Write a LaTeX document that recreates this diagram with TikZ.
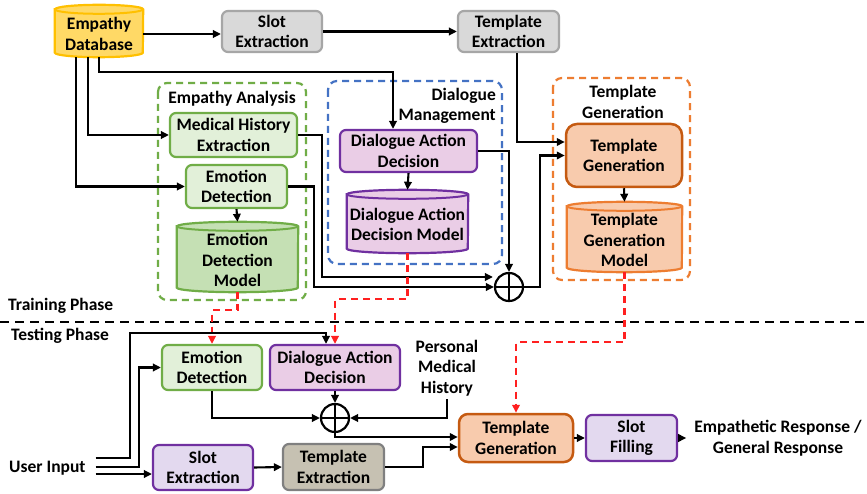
\documentclass[tikz,border=0pt]{standalone}
\usepackage{fontspec}
\setmainfont{Carlito}
\usetikzlibrary{arrows.meta,calc}
\pgfdeclarelayer{background}
\pgfsetlayers{background,main}

\definecolor{dbfill}{HTML}{FFD966}
\definecolor{dbline}{HTML}{FFC000}
\definecolor{grayfill}{HTML}{D9D9D9}
\definecolor{grayline}{HTML}{A6A6A6}
\definecolor{grnfill}{HTML}{E2F0D9}
\definecolor{grnline}{HTML}{70AD47}
\definecolor{grnmodel}{HTML}{C5E0B4}
\definecolor{pinkfill}{HTML}{EACDE6}
\definecolor{purpline}{HTML}{7030A0}
\definecolor{lavfill}{HTML}{E3D9EF}
\definecolor{orgfill}{HTML}{F8CBAD}
\definecolor{orgline}{HTML}{C55A11}
\definecolor{orgmodel}{HTML}{ED7D31}
\definecolor{taupefill}{HTML}{C6C1B2}
\definecolor{taupeline}{HTML}{808080}
\definecolor{blueline}{HTML}{4472C4}
\definecolor{redline}{HTML}{FF2020}

% cylinder body drawn behind a named node: name, half width, fill, border
\newcommand\drawcyl[4]{%
  \begin{pgfonlayer}{background}
    \filldraw[fill=#3, draw=#4, line width=2.2pt]
      ([yshift=1.5pt]#1.north west) -- ([yshift=4.5pt]#1.south west)
      arc[start angle=180, end angle=360, x radius=#2, y radius=4.5pt]
      -- ([yshift=1.5pt]#1.north east)
      arc[start angle=0, end angle=180, x radius=#2, y radius=4.5pt] -- cycle;
    \draw[draw=#4, line width=2pt] ([yshift=1.5pt]#1.north west)
      arc[start angle=180, end angle=360, x radius=#2, y radius=4.5pt];
  \end{pgfonlayer}}

\tikzset{
  every node/.style={font=\fontsize{17.5}{20.5}\selectfont\bfseries, align=center, inner sep=0pt},
  box/.style={draw, line width=2.2pt, rounded corners=6pt},
  conn/.style={draw, line width=2.1pt, -{Triangle[length=8pt,width=7.5pt]}},
  reddash/.style={draw=redline, line width=2.2pt, dash pattern=on 7pt off 5pt,
    -{Triangle[length=8pt,width=7.5pt]}},
  grp/.style={line width=2.2pt, dash pattern=on 7pt off 5pt, rounded corners=9pt},
  oplus/.style={circle, draw, line width=2.2pt, minimum size=28pt},
}

\begin{document}
\begin{tikzpicture}[x=1pt,y=1pt]
\useasboundingbox (0,0) rectangle (867,-494);
\begin{pgfonlayer}{background}
  \fill[white] (0,0) rectangle (867,-494);
  % group frames
  \draw[grp, draw=grnline] (158,-83) rectangle (306,-300);
  \draw[grp, draw=blueline] (328,-81) rectangle (502,-264);
  \draw[grp, draw=orgmodel] (553,-78) rectangle (690,-280);
\end{pgfonlayer}

% group titles
\node (eatitle) at (232,-99) {Empathy Analysis};
\node[anchor=east, align=right] (dmtitle) at (496,-106) {Dialogue\\Management};
\node (tgtitle) at (623,-102) {Template\\Generation};

% ---------- training phase ----------
\node[minimum width=88pt, minimum height=46pt] (db) at (99,-34) {Empathy\\Database};
\drawcyl{db}{44pt}{dbfill}{dbline}
\node[box, fill=grayfill, draw=grayline, minimum width=100pt, minimum height=41pt] (slot1) at (272,-31.5) {Slot\\Extraction};
\node[box, fill=grayfill, draw=grayline, minimum width=101pt, minimum height=41pt] (te1) at (508.5,-31.5) {Template\\Extraction};
\node[box, fill=grnfill, draw=grnline, minimum width=127pt, minimum height=44pt] (mhe) at (233.5,-135) {Medical History\\Extraction};
\node[box, fill=grnfill, draw=grnline, minimum width=101pt, minimum height=43pt] (ed1) at (236.5,-186.5) {Emotion\\Detection};
\node[minimum width=121pt, minimum height=64pt] (edm) at (237.5,-260) {Emotion\\Detection\\Model};
\drawcyl{edm}{60.5pt}{grnmodel}{grnline}
\node[box, fill=pinkfill, draw=purpline, minimum width=137pt, minimum height=42pt] (dad1) at (408.5,-151) {Dialogue Action\\Decision};
\node[minimum width=121pt, minimum height=57pt] (dadm) at (407.5,-224.5) {Dialogue Action\\Decision Model};
\drawcyl{dadm}{60.5pt}{pinkfill}{purpline}
\node[box, rounded corners=11pt, line width=2.5pt, fill=orgfill, draw=orgline, minimum width=116pt, minimum height=63pt] (tg1) at (624,-155.5) {Template\\Generation};
\node[minimum width=115pt, minimum height=64pt] (tgm) at (624.5,-240) {Template\\Generation\\Model};
\drawcyl{tgm}{57.5pt}{orgfill}{orgmodel}
\node[oplus] (op1) at (509,-287) {};
\draw[line width=2.2pt] (op1.north) -- (op1.south) (op1.west) -- (op1.east);

\coordinate (dmtop) at (393,-72);
\draw[conn] (db.east) -- (db.east -| slot1.west);
\draw[conn] (slot1.east) -- (te1.west);
\draw[conn] (db.south) |- (dmtop) -- (dmtop |- dad1.north);
\draw[conn] ([xshift=-11pt]db.south) |- (mhe.west);
\draw[conn] ([xshift=-23pt]db.south) |- (ed1.west);
\draw[conn] ([xshift=8.5pt]te1.south) |- ([yshift=13.5pt]tg1.west);
\draw[conn] (ed1.south) -- ([yshift=6pt]edm.north);
\draw[conn] (dad1.south) -- ([yshift=6pt]dadm.north);
\draw[conn] (tg1.south) -- ([yshift=6pt]tgm.north);
\draw[conn] (dad1.east) -| (op1.north);
\draw[conn] (mhe.east) -- ++(24,0) |- ([shift={(-1pt,10pt)}]op1.west);
\draw[conn] (ed1.east) -- ++(26,0) |- (op1.west);
\draw[conn] (op1.east) -- ++(16,0) |- (tg1.west);

% ---------- phase separator ----------
\node[anchor=west] (trn) at (8,-306) {Training Phase};
\node[anchor=west] (tst) at (11,-336) {Testing Phase};
\draw[line width=2.2pt, dash pattern=on 9pt off 6pt] (0,-322) -- (867,-322);

% ---------- testing phase ----------
\node[box, fill=grnfill, draw=grnline, minimum width=100pt, minimum height=45pt] (ed2) at (212,-367.5) {Emotion\\Detection};
\node[box, fill=pinkfill, draw=purpline, minimum width=130pt, minimum height=45pt] (dad2) at (335,-367.5) {Dialogue Action\\Decision};
\node[oplus] (op2) at (335,-418) {};
\draw[line width=2.2pt] (op2.north) -- (op2.south) (op2.west) -- (op2.east);
\node[box, fill=lavfill, draw=purpline, minimum width=100pt, minimum height=45pt] (se2) at (203,-467.5) {Slot\\Extraction};
\node[box, fill=taupefill, draw=taupeline, minimum width=101pt, minimum height=46pt] (te2) at (333.5,-467) {Template\\Extraction};
\node[box, rounded corners=9pt, line width=2.5pt, fill=orgfill, draw=orgline, minimum width=114pt, minimum height=48pt] (tg2) at (516,-438) {Template\\Generation};
\node[box, fill=lavfill, draw=purpline, minimum width=91pt, minimum height=46pt] (sf) at (631.5,-438) {Slot\\Filling};
\node[inner sep=3pt] (pmh) at (447,-368) {Personal\\Medical\\History};
\node[inner xsep=8pt] (out) at (778,-438) {Empathetic Response /\\General Response};
\node[anchor=west, inner sep=3pt] (ui) at (6,-468) {User Input};

% model transfer from training to testing
\draw[reddash] (edm.south) -- ++(0,-18) -| (ed2.north);
\draw[reddash] (dadm.south) -- ++(0,-46) -| (dad2.north);
\draw[reddash] (tgm.south) -- ++(0,-70) -| (tg2.north);

\draw[conn] ([shift={(7pt,10pt)}]ui.east) -| (130,-333) -| ([xshift=-9pt]dad2.north);
\draw[conn] ([shift={(7pt,1pt)}]ui.east) -| ([xshift=-22pt]ed2.west) -- (ed2.west);
\draw[conn] ([shift={(7pt,-6pt)}]ui.east) -- ([yshift=-6.5pt]se2.west);
\draw[conn] (se2.east) -- (te2.west);
\draw[conn] (te2.east) -- ++(38,0) |- ([yshift=-9pt]tg2.west);
\draw[conn] (ed2.south) |- (op2.west);
\draw[conn] (dad2.south) -- (op2.north);
\draw[conn] (pmh.south) |- (op2.east);
\draw[conn] (op2.south) |- ([yshift=1pt]tg2.west);
\draw[conn] (tg2.east) -- (sf.west);
\draw[conn] (sf.east) -- (out.west);
\end{tikzpicture}
\end{document}
